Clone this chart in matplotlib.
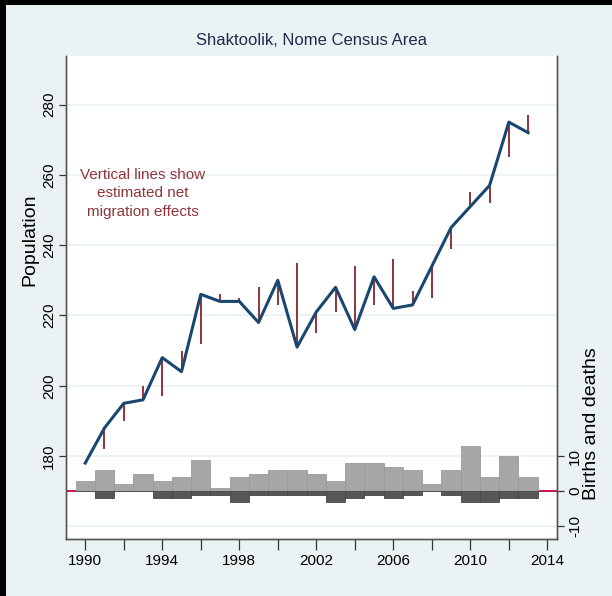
import matplotlib
matplotlib.use('Agg')
import matplotlib.pyplot as plt
from matplotlib.patches import Rectangle
from matplotlib.lines import Line2D
from matplotlib.transforms import blended_transform_factory
from matplotlib.ticker import MultipleLocator

plt.rcParams['font.family'] = ['Liberation Sans', 'DejaVu Sans']

# Shaktoolik population and components of change, 1990-2013
years = list(range(1990, 2014))
population = [178, 188, 195, 196, 208, 204, 226, 224, 224, 218, 230, 211,
              221, 228, 216, 231, 222, 223, 234, 245, 251, 257, 275, 272]
births = [3, 6, 2, 5, 3, 4, 9, 1, 4, 5, 6, 6,
          5, 3, 8, 8, 7, 6, 2, 6, 13, 4, 10, 4]
deaths = [0, 2, 0, 0, 2, 2, 1, 1, 3, 1, 1, 1,
          1, 3, 2, 1, 2, 1, 0, 1, 3, 3, 2, 2]
pop_ticks = [180, 200, 220, 240, 260, 280]
bd_ticks = [-10, 0, 10]

bg = '#eaf2f3'
navy = '#1a476f'
cranberry = '#90353b'

fig = plt.figure(figsize=(6.12, 5.96), dpi=100, facecolor=bg)
ax = fig.add_axes([0.1078, 0.0956, 0.8023, 0.8104])

# black frame strips along the top and left edges
fig.patches.append(Rectangle((0, 1 - 5 / 596), 1, 5 / 596, transform=fig.transFigure,
                             facecolor='black', edgecolor='none', zorder=10))
fig.patches.append(Rectangle((0, 0), 6 / 612, 1, transform=fig.transFigure,
                             facecolor='black', edgecolor='none', zorder=10))

# births / deaths on a secondary axis, drawn underneath the population line
ax2 = ax.twinx()
ax.set_zorder(2)
ax.patch.set_visible(False)
ax2.set_zorder(1)
ax2.patch.set_visible(True)
ax2.set_facecolor('white')

ax.set_xlim(1989, 2014.5)
ax.set_ylim(156.4, 293.8)
ax2.set_ylim(-13.7, 124.3)

# gridlines for both scales live in the lower axes so bars sit on top
pop_grid = blended_transform_factory(ax2.transAxes, ax.transData)
for v in pop_ticks:
    ax2.add_line(Line2D([0, 1], [v, v], transform=pop_grid, color=bg, lw=1.3, zorder=0))
for v in bd_ticks:
    if v != 0:
        ax2.axhline(v, color=bg, lw=1.3, zorder=0)

ax2.axhline(0, color='#c10534', lw=1.3, zorder=1)
ax2.bar(years, births, width=1.0, color='#a6a6a6', edgecolor='#9a9a9a', lw=0.6, zorder=2)
ax2.bar(years, [-d for d in deaths], width=1.0, color='#575757', edgecolor='#454545',
        lw=0.6, zorder=3)
ax2.set_yticks(bd_ticks)
ax2.set_yticklabels([str(v) for v in bd_ticks], rotation=90, va='center')
ax2.tick_params(axis='y', length=5, width=0.9, color='#333333', labelsize=11, pad=3)
ax2.set_ylabel('Births and deaths', fontsize=14)
ax2.yaxis.set_label_coords(1.053, 0.238)

# migration lines: expected population from previous year plus natural change
for i in range(1, len(years)):
    expected = population[i - 1] + births[i] - deaths[i]
    ax.vlines(years[i], expected, population[i], color=cranberry, lw=1.4, zorder=3)

ax.plot(years, population, color=navy, lw=2.2, zorder=4)

ax.set_xticks(range(1990, 2015, 4))
ax.xaxis.set_minor_locator(MultipleLocator(2))
ax.tick_params(axis='x', which='both', length=8, width=0.9, color='#333333',
               labelsize=11, pad=3)
ax.set_yticks(pop_ticks)
ax.set_yticklabels([str(v) for v in pop_ticks], rotation=90, va='center')
ax.tick_params(axis='y', length=5, width=0.9, color='#333333', labelsize=11, pad=2)
ax.set_ylabel('Population', fontsize=14)
ax.yaxis.set_label_coords(-0.056, 0.62)

for a in (ax, ax2):
    a.spines['top'].set_visible(False)
    for s in ('left', 'right', 'bottom'):
        a.spines[s].set_color('#555555')
        a.spines[s].set_linewidth(1.0)

ax.text(1993.0, 254.8, 'Vertical lines show\nestimated net\nmigration effects',
        color=cranberry, fontsize=11, ha='center', va='center', linespacing=1.4)

fig.text(0.509, 1 - 40.5 / 596, 'Shaktoolik, Nome Census Area', color='#1e2d4f',
         fontsize=12, ha='center', va='center')

fig.savefig('out.png', dpi=100, facecolor=bg)
